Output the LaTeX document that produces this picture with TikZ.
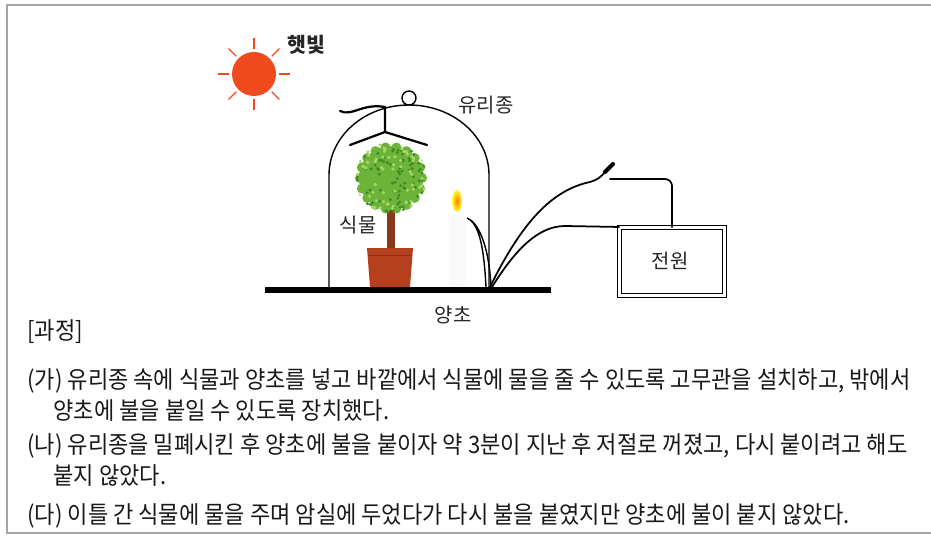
\documentclass[tikz,border=0pt]{standalone}
\usepackage{fontspec}
\setmainfont{Noto Sans CJK KR}
\newfontfamily\krtext[FakeStretch=0.92]{Noto Sans CJK KR}
\usetikzlibrary{shapes,arrows}
\usepackage{xcolor}

\definecolor{sunred}{HTML}{F04B1E}
\definecolor{leaf}{HTML}{6CB33A}
\definecolor{leafdark}{HTML}{3F8A22}
\definecolor{leaflight}{HTML}{A6D865}
\definecolor{potred}{HTML}{B5401E}
\definecolor{potdark}{HTML}{8E2E12}
\definecolor{trunkbrown}{HTML}{8A3A1C}

\begin{document}
\begin{tikzpicture}[x=0.03cm, y=0.03cm, thick]
  \tikzstyle{word} = [font=\fontsize{17}{20}\selectfont, text=black!85, inner sep=0pt]
  \tikzstyle{procline} = [anchor=west, font=\krtext\fontsize{20.5}{24}\selectfont, text=black!90, inner sep=0pt]
  \tikzstyle{glass} = [draw, line width=1.2pt]
  \tikzstyle{tube} = [draw, line width=1.9pt, line cap=round]
  \tikzstyle{wire} = [draw, line width=1.5pt, line cap=round]

  \useasboundingbox (0,0) rectangle (931,-540);
  % outer frame, open on the right
  \draw[gray!70, line width=1.6pt] (931,-5) -- (7,-5) -- (7,-533) -- (931,-533);

  % sun
  \coordinate (sun) at (254,-74);
  \fill[sunred] (sun) circle (22);
  \foreach \a in {0,45,...,315}
    \draw[sunred, line width=1pt] (sun) ++(\a:25) -- ++(\a:11);
  \node[word, font=\fontsize{17.5}{20}\selectfont\bfseries] (sunlight) at (306,-45) {햇빛};

  % plant: crown, trunk and pot
  \coordinate (crown) at (391,-178);
  \fill[trunkbrown] (387,-205) rectangle (395,-250);
  \fill[leaf] (crown) circle (32);
  \foreach \a in {0,20,...,340}
    \fill[leaf] (crown) ++(\a:31) circle (5);
  \begin{scope}
    \clip (crown) circle (36);
    \pgfmathsetseed{11}
    \foreach \i in {1,...,90} {
      \pgfmathsetmacro{\dx}{rand*34}
      \pgfmathsetmacro{\dy}{rand*34}
      \fill[leafdark] (crown) ++(\dx,\dy) circle (1.6);
    }
    \foreach \i in {1,...,70} {
      \pgfmathsetmacro{\dx}{rand*34}
      \pgfmathsetmacro{\dy}{rand*34}
      \fill[leaflight] (crown) ++(\dx,\dy) circle (1.8);
    }
  \end{scope}
  \fill[potred] (367,-248) -- (413,-248) -- (410,-287) -- (370,-287) -- cycle;
  \draw[potdark, line width=0.6pt] (368,-255) -- (412,-255);
  \node[word] (plant) at (358,-225) {식물};

  % candle and flame
  \fill[gray!4] (449,-214) rectangle (466,-287);
  \shade[inner color=orange, outer color=yellow!80] (457,-201) ellipse (5 and 11);

  % base plate
  \fill[black] (265,-287) rectangle (551,-293);
  \node[word] (candle) at (453,-315) {양초};

  % bell jar with knob
  \draw[glass] (329,-288) -- (329,-175) arc (180:0:80 and 70) -- (489,-288);
  \draw[glass, fill=white] (409,-98) circle (7);
  \node[word] (jar) at (486,-105) {유리종};

  % rubber tube into the jar
  \coordinate (joint) at (385,-132);
  \draw[tube] (340,-111) .. controls (352,-117) and (362,-103) .. (385,-107) -- (joint);
  \draw[tube] (350,-145) -- (joint) -- (427,-145);

  % power supply
  \node[draw, line width=0.9pt, double, double distance=2.2pt, minimum width=3.15cm, minimum height=2.04cm] (power) at (672,-261.5) {};
  \node[word] (powerlabel) at (670,-261) {전원};

  % heating wire and leads
  \draw[wire, line width=1.2pt] (486,-287) .. controls (484,-250) and (480,-224) .. (467,-218)
    .. controls (478,-222) and (489,-245) .. (491,-287);
  \coordinate (plug) at (605,-172);
  \draw[wire] (490,-287) .. controls (522,-222) and (552,-190) .. (590,-182)
    .. controls (597,-180) and (601,-177) .. (plug);
  \draw[line width=3.5pt, line cap=round] (plug) -- ++(8,8);
  \draw[wire] (492,-287) .. controls (515,-250) and (538,-226) .. (565,-226) -- (power.north west);
  \draw[wire, rounded corners=6] (610,-179) -| (power.north);

  % procedure text
  \node[procline] (steps) at (27,-332) {[과정]};
  \node[procline] (stepa) at (27,-381) {(가) 유리종 속에 식물과 양초를 넣고 바깥에서 식물에 물을 줄 수 있도록 고무관을 설치하고, 밖에서};
  \node[procline] (stepa2) at (53,-411) {양초에 불을 붙일 수 있도록 장치했다.};
  \node[procline] (stepb) at (27,-446) {(나) 유리종을 밀폐시킨 후 양초에 불을 붙이자 약 3분이 지난 후 저절로 꺼졌고, 다시 붙이려고 해도};
  \node[procline] (stepb2) at (53,-476) {붙지 않았다.};
  \node[procline] (stepc) at (27,-516) {(다) 이틀 간 식물에 물을 주며 암실에 두었다가 다시 불을 붙였지만 양초에 불이 붙지 않았다.};
\end{tikzpicture}
\end{document}
